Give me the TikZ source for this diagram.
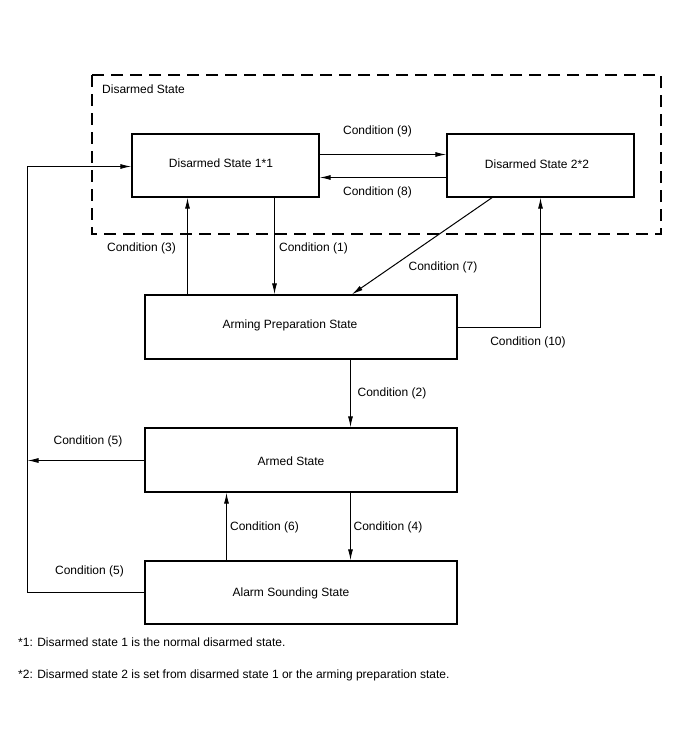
\documentclass[tikz,border=0pt]{standalone}
\usepackage{fontspec}
\setmainfont{Liberation Sans}
\usetikzlibrary{arrows.meta}
\begin{document}
\begin{tikzpicture}[x=1pt,y=-1pt,
  font=\fontsize{12}{14}\selectfont,
  statebox/.style 2 args={draw, line width=1.4pt, minimum width=#1, minimum height=#2, inner sep=0pt},
  arr/.style={draw, line width=1pt, -{Latex[length=11pt,width=5pt]}},
  lbl/.style={inner sep=0pt}
]
\useasboundingbox (0,0) rectangle (688,755);

% dashed group
\draw[line width=2pt, dash pattern=on 12pt off 7pt] (92,75) rectangle (661,234);
\node[lbl, anchor=west] (grp) at (102,89) {Disarmed State};

% boxes
\node[statebox={187pt}{63pt}] (ds1) at (225.5,165.5) {};
\node[lbl] (ds1t) at (221,163) {Disarmed State 1*1};
\node[statebox={187pt}{63pt}] (ds2) at (540.5,165.5) {};
\node[lbl] (ds2t) at (537,164) {Disarmed State 2*2};
\node[statebox={312pt}{64pt}] (arm) at (301,327) {};
\node[lbl] (armt) at (290,325) {Arming Preparation State};
\node[statebox={312pt}{64pt}] (armed) at (301,460) {};
\node[lbl] (armedt) at (291,461) {Armed State};
\node[statebox={312pt}{63pt}] (alarm) at (301,592.5) {};
\node[lbl] (alarmt) at (291,593) {Alarm Sounding State};

% side coordinates
\coordinate (l5) at (27.5,460.5);
\coordinate (lc) at (27.5,592.5);

% connectors
\draw[arr] (ds1.east |- 0,154.5) -- (ds2.west |- 0,154.5);
\draw[arr] (ds2.west |- 0,177.5) -- (ds1.east |- 0,177.5);
\draw[arr] (arm.north -| 187.5,0) -- (ds1.south -| 187.5,0);
\draw[arr] (ds1.south -| 274.5,0) -- (arm.north -| 274.5,0);
\draw[arr] (ds2.south -| 492,0) -- (arm.north -| 352,0);
\draw[arr] (arm.east |- 0,327.5) -| (ds2.south -| 540.5,0);
\draw[arr] (arm.south -| 350.5,0) -- (armed.north -| 350.5,0);
\draw[arr] (armed.west |- l5) -- (l5);
\draw[arr] (alarm.north -| 226.5,0) -- (armed.south -| 226.5,0);
\draw[arr] (armed.south -| 350.5,0) -- (alarm.north -| 350.5,0);
\draw[arr] (alarm.west) -- (lc) |- (ds1.west |- 0,166.5);

% labels
\node[lbl] (c9) at (377.5,131.5) {Condition (9)};
\node[lbl] (c8) at (377.5,192) {Condition (8)};
\node[lbl] (c3) at (141.5,248) {Condition (3)};
\node[lbl] (c1) at (313.5,248) {Condition (1)};
\node[lbl] (c7) at (443,267) {Condition (7)};
\node[lbl] (c10) at (528,342) {Condition (10)};
\node[lbl] (c2) at (392,393) {Condition (2)};
\node[lbl] (c5a) at (88,441) {Condition (5)};
\node[lbl] (c6) at (264.5,527) {Condition (6)};
\node[lbl] (c4) at (388,527) {Condition (4)};
\node[lbl] (c5b) at (89.5,571) {Condition (5)};

% footnotes
\node[lbl, anchor=west] (fn1) at (18,642) {*1: Disarmed state 1 is the normal disarmed state.};
\node[lbl, anchor=west] (fn2) at (18,675) {*2: Disarmed state 2 is set from disarmed state 1 or the arming preparation state.};
\end{tikzpicture}
\end{document}
